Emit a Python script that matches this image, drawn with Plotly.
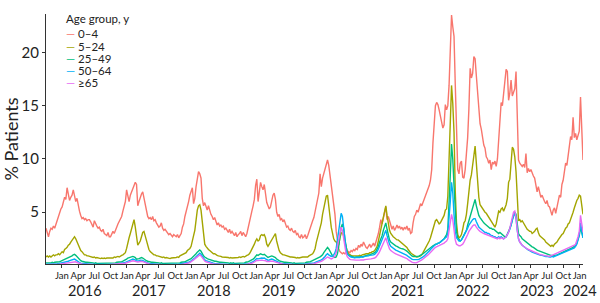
import pandas as pd
import plotly.graph_objects as go

START = "2015-10-03"  # first weekly observation

groups = ["0–4", "5–24", "25–49", "50–64", "≥65"]
colors = ["#F8766D", "#A3A500", "#00BF7D", "#00B0F6", "#E76BF3"]

age_0_4 = [
    # 2015-16
    3.5,3.1,2.7,3.2,3.5,3.4,3.7,3.5,3.9,4.2,4.6,4.9,5.3,5.5,5.9,6.4,6.2,7.3,6.7,6.1,6.4,6.6,7.1,6.5,6.0,6.3,
    5.6,5.1,4.7,4.4,4.5,4.3,4.4,4.2,4.3,4.3,4.1,3.8,3.6,4.2,3.9,3.7,3.5,3.6,3.3,3.2,3.4,3.0,2.9,2.8,3.1,2.7,
    # 2016-17
    2.7,2.9,3.2,3.0,3.4,3.6,3.9,4.1,4.3,4.6,5.1,5.6,6.0,7.1,6.5,6.0,6.6,6.9,7.1,7.5,7.8,7.6,5.6,6.0,6.5,6.7,
    6.9,6.3,5.9,5.0,4.6,4.4,4.5,4.3,4.6,4.2,4.3,4.0,3.8,3.6,3.7,4.0,3.5,3.3,3.4,3.2,3.1,2.9,3.0,2.8,2.7,2.9,
    # 2017-18
    2.8,2.7,2.9,2.6,2.8,3.0,3.6,3.9,4.6,5.0,5.4,6.0,6.6,7.1,7.3,5.8,6.3,7.4,8.1,8.8,8.6,8.2,6.3,5.6,5.9,5.4,
    5.2,5.6,5.1,4.8,4.6,4.3,4.5,4.1,3.8,4.0,3.7,3.8,3.6,3.7,3.4,3.5,3.3,3.1,3.4,3.0,3.2,3.0,2.8,3.1,2.7,2.9,
    # 2018-19
    3.0,3.2,2.8,3.1,2.9,2.7,3.0,3.6,4.2,4.7,5.1,5.6,6.2,7.5,8.1,6.0,7.0,7.8,7.4,7.1,7.6,6.8,5.9,5.6,5.3,5.5,
    6.1,6.6,6.8,6.2,5.0,4.6,4.8,4.3,4.4,4.1,4.3,3.9,3.6,3.7,3.4,3.3,3.5,3.2,3.1,3.3,2.9,3.0,2.7,2.6,2.9,2.6,
    # 2019-20
    2.7,2.9,2.5,2.8,3.2,3.5,3.9,4.2,4.5,5.0,5.5,6.0,6.8,8.6,7.4,8.2,8.7,9.2,9.6,9.9,9.4,8.5,7.6,6.8,6.0,4.8,
    3.2,2.2,1.6,1.3,1.2,1.1,1.2,1.1,1.2,1.1,1.3,1.2,1.4,1.3,1.5,1.4,1.6,1.5,1.9,1.7,2.0,1.8,2.2,1.9,1.7,1.6,
    # 2020-21
    1.8,2.0,1.7,1.9,2.1,1.8,2.2,2.5,3.0,3.6,4.3,3.9,4.6,5.0,5.5,4.3,4.6,4.2,3.6,3.4,3.7,3.3,3.5,3.8,3.5,3.7,
    3.4,3.6,3.3,3.6,3.4,3.7,3.3,3.5,3.0,3.1,4.0,4.6,4.8,5.2,5.0,5.5,5.8,5.6,5.9,6.2,6.5,6.9,7.2,7.5,8.0,9.0,
    # 2021-22
    11.5,13.4,15.0,15.3,15.1,14.6,14.0,13.5,12.9,13.2,15.1,14.6,15.0,16.9,20.5,23.5,22.4,21.5,17.0,11.5,9.0,8.6,9.6,9.8,8.3,8.2,
    9.0,10.5,12.0,14.7,18.5,17.6,18.0,19.6,19.4,17.8,16.2,14.5,13.3,12.8,12.0,11.3,11.0,10.2,10.0,9.6,9.9,9.0,9.7,9.5,9.8,9.3,
    # 2022-23
    10.0,11.8,14.5,15.3,15.0,16.0,17.2,18.4,18.2,15.5,16.2,17.4,15.9,16.3,16.6,18.2,13.0,9.9,9.6,9.4,9.3,9.5,9.2,10.5,8.7,9.1,
    8.8,9.0,8.6,8.4,8.2,7.6,6.9,7.4,6.8,6.4,6.6,6.2,6.0,5.8,6.1,5.6,5.5,5.1,4.7,5.2,5.4,4.9,5.6,6.2,6.6,6.4,
    # 2023-24
    7.6,8.0,8.7,9.6,9.4,10.4,11.0,12.1,11.8,13.9,12.0,12.4,11.8,12.3,12.6,15.8,13.0,9.9,
]

age_5_24 = [
    # 2015-16
    0.8,0.9,0.8,0.9,0.8,0.9,1.0,0.9,1.0,1.0,1.1,1.0,1.2,1.3,1.2,1.5,1.6,1.7,1.9,2.0,2.2,2.4,2.6,2.7,2.5,2.2,
    1.9,1.6,1.4,1.3,1.1,1.0,1.0,0.9,0.9,0.85,0.8,0.8,0.75,0.8,0.7,0.75,0.7,0.7,0.65,0.7,0.65,0.7,0.65,0.7,0.7,0.75,
    # 2016-17
    0.7,0.75,0.7,0.8,0.75,0.8,0.85,0.8,0.9,0.95,1.0,1.1,1.2,1.6,2.2,2.6,3.0,3.4,4.0,4.3,3.6,2.8,1.9,2.1,2.3,2.7,
    3.1,3.2,2.8,2.2,1.8,1.5,1.3,1.2,1.1,1.0,1.0,0.9,0.9,0.85,0.8,0.8,0.75,0.8,0.7,0.75,0.7,0.7,0.65,0.7,0.7,0.75,
    # 2017-18
    0.7,0.75,0.8,0.75,0.9,0.95,1.0,1.1,1.1,1.2,1.4,1.5,1.6,1.8,2.2,2.8,3.3,4.4,5.2,5.6,5.7,5.2,4.2,2.6,2.0,1.8,
    1.6,1.5,1.4,1.3,1.2,1.1,1.1,1.0,0.95,0.9,0.9,0.85,0.8,0.8,0.8,0.75,0.8,0.75,0.7,0.75,0.7,0.7,0.7,0.75,0.7,0.75,
    # 2018-19
    0.8,0.75,0.8,0.85,0.8,0.9,0.95,1.0,1.1,1.3,1.5,1.7,2.0,2.3,2.5,2.3,2.4,2.8,2.9,2.8,2.9,2.6,2.0,1.8,2.0,2.2,
    2.5,2.7,2.9,3.0,2.3,1.7,1.4,1.2,1.1,1.0,1.0,0.95,0.9,0.9,0.85,0.8,0.8,0.8,0.75,0.75,0.7,0.75,0.7,0.75,0.75,0.8,
    # 2019-20
    0.8,0.8,0.85,0.8,0.9,0.95,1.0,1.1,1.3,1.6,2.2,2.7,3.0,3.4,4.0,4.8,5.4,6.0,6.5,6.6,5.8,4.6,3.6,3.0,2.5,2.3,
    2.2,2.0,1.9,2.6,3.0,3.1,2.8,2.2,1.6,1.3,1.1,1.0,0.95,0.9,0.9,0.85,0.9,0.85,0.9,0.95,0.9,1.0,1.0,1.05,1.1,1.1,
    # 2020-21
    1.1,1.2,1.2,1.3,1.3,1.4,1.6,1.8,2.3,2.9,3.5,4.0,4.7,5.3,5.6,4.7,3.9,3.3,3.0,2.8,2.7,2.6,2.5,2.4,2.4,2.3,
    2.2,2.1,2.0,1.9,1.8,1.7,1.5,1.3,1.2,1.1,1.0,0.9,0.85,0.8,0.8,0.85,0.9,1.0,1.2,1.4,1.6,1.8,2.0,2.3,2.6,3.0,
    # 2021-22
    3.4,3.8,4.2,4.3,4.1,3.9,4.0,4.2,4.4,4.7,5.2,5.3,6.5,9.5,13.0,16.9,15.2,12.5,7.0,4.0,2.9,2.6,2.7,2.9,3.4,4.0,
    4.2,4.8,5.8,7.0,8.0,8.5,9.2,10.3,11.2,9.6,7.6,6.4,5.7,5.5,5.3,5.2,5.0,4.9,4.7,4.5,4.4,4.2,4.0,3.8,3.6,3.9,
    # 2022-23
    4.6,5.1,5.0,5.3,5.4,5.1,5.4,5.7,6.3,7.8,8.1,9.6,11.1,10.9,10.2,8.8,5.8,4.2,4.3,4.1,4.2,4.0,3.7,3.5,3.4,3.3,
    3.2,3.2,3.0,3.1,3.2,3.4,3.5,3.1,2.8,2.7,2.6,2.5,2.4,2.2,2.1,2.0,1.9,1.8,1.9,1.8,2.0,2.1,2.2,2.4,2.6,2.7,
    # 2023-24
    2.9,3.0,3.3,3.5,3.6,3.9,4.0,4.3,4.6,5.0,5.4,5.8,6.1,6.3,6.6,6.5,5.6,4.8,
]

age_25_49 = [
    # 2015-16
    0.25,0.25,0.2,0.25,0.25,0.3,0.25,0.3,0.3,0.3,0.35,0.35,0.4,0.45,0.5,0.55,0.6,0.65,0.7,0.8,0.85,0.9,1.0,1.05,0.95,0.8,
    0.65,0.55,0.45,0.4,0.35,0.35,0.3,0.3,0.3,0.25,0.25,0.25,0.25,0.2,0.25,0.2,0.2,0.25,0.2,0.2,0.25,0.2,0.2,0.25,0.2,0.25,
    # 2016-17
    0.2,0.25,0.2,0.25,0.25,0.3,0.3,0.3,0.35,0.35,0.4,0.45,0.5,0.6,0.7,0.75,0.8,0.8,0.85,0.8,0.75,0.6,0.6,0.65,0.7,0.75,
    0.7,0.6,0.5,0.45,0.4,0.35,0.35,0.3,0.3,0.3,0.25,0.25,0.25,0.25,0.2,0.25,0.2,0.2,0.25,0.2,0.2,0.2,0.25,0.2,0.2,0.25,
    # 2017-18
    0.2,0.25,0.2,0.25,0.25,0.3,0.3,0.35,0.35,0.4,0.45,0.5,0.55,0.65,0.75,0.85,0.95,1.1,1.25,1.4,1.45,1.35,1.1,0.9,0.8,0.7,
    0.65,0.6,0.55,0.5,0.45,0.45,0.4,0.4,0.35,0.35,0.3,0.3,0.3,0.3,0.25,0.25,0.25,0.25,0.2,0.25,0.2,0.25,0.2,0.2,0.25,0.2,
    # 2018-19
    0.2,0.25,0.2,0.25,0.25,0.3,0.3,0.35,0.4,0.45,0.5,0.6,0.7,0.85,1.0,0.95,1.0,1.1,1.05,1.0,1.05,0.95,0.8,0.75,0.8,0.85,
    0.9,0.85,0.8,0.75,0.6,0.5,0.45,0.4,0.35,0.35,0.3,0.3,0.3,0.25,0.25,0.25,0.25,0.2,0.25,0.2,0.2,0.25,0.2,0.2,0.25,0.25,
    # 2019-20
    0.25,0.25,0.3,0.3,0.3,0.35,0.4,0.45,0.5,0.55,0.6,0.7,0.75,0.8,0.9,1.0,1.2,1.4,1.6,1.7,1.55,1.3,1.1,0.9,0.8,0.75,
    0.8,1.1,1.8,2.8,3.6,3.9,3.5,2.5,1.6,1.1,0.95,0.9,0.85,0.8,0.8,0.75,0.8,0.8,0.75,0.8,0.85,0.8,0.85,0.9,0.9,0.95,
    # 2020-21
    1.0,1.0,1.05,1.1,1.1,1.2,1.3,1.5,1.8,2.2,2.5,2.8,3.3,3.7,4.0,3.4,2.8,2.4,2.2,2.1,2.0,1.9,1.85,1.8,1.7,1.65,
    1.6,1.6,1.55,1.5,1.45,1.35,1.25,1.1,1.0,0.9,0.85,0.85,0.8,0.8,0.85,0.9,0.95,1.0,1.1,1.2,1.3,1.4,1.5,1.6,1.7,1.8,
    # 2021-22
    1.85,1.9,2.0,2.0,2.1,2.1,2.2,2.3,2.4,2.5,2.7,2.9,3.4,5.5,8.5,11.4,10.0,7.5,4.5,3.2,2.6,2.4,2.3,2.4,2.6,2.8,
    3.0,3.3,3.8,4.2,4.7,5.2,5.6,6.0,6.2,5.6,5.1,4.7,4.5,4.3,4.1,4.0,3.9,3.8,3.7,3.6,3.5,3.5,3.4,3.4,3.3,3.2,
    # 2022-23
    3.1,3.0,3.1,3.0,2.9,2.8,2.7,2.7,2.9,3.2,3.5,3.8,4.3,4.7,5.0,4.8,3.8,3.0,2.8,2.7,2.5,2.4,2.3,2.2,2.1,2.0,
    1.9,1.8,1.75,1.7,1.6,1.5,1.45,1.4,1.35,1.3,1.25,1.2,1.15,1.1,1.05,1.0,1.0,0.95,0.95,0.9,0.95,0.95,1.0,1.05,1.1,1.15,
    # 2023-24
    1.2,1.25,1.3,1.35,1.4,1.45,1.5,1.55,1.6,1.7,1.8,1.9,2.1,2.4,2.8,3.6,3.0,2.6,
]

age_50_64 = [
    # 2015-16
    0.12,0.12,0.1,0.12,0.12,0.14,0.13,0.15,0.15,0.16,0.18,0.2,0.22,0.25,0.28,0.3,0.33,0.36,0.4,0.45,0.5,0.52,0.58,0.6,0.52,0.42,
    0.34,0.28,0.22,0.2,0.18,0.16,0.15,0.14,0.13,0.12,0.12,0.11,0.12,0.1,0.11,0.1,0.1,0.11,0.1,0.1,0.11,0.1,0.1,0.11,0.1,0.11,
    # 2016-17
    0.1,0.11,0.1,0.12,0.12,0.14,0.15,0.16,0.18,0.2,0.22,0.25,0.28,0.35,0.42,0.48,0.52,0.55,0.6,0.58,0.52,0.42,0.42,0.45,0.5,0.52,
    0.48,0.4,0.32,0.27,0.23,0.2,0.18,0.16,0.15,0.14,0.13,0.12,0.12,0.11,0.1,0.11,0.1,0.1,0.11,0.1,0.1,0.1,0.11,0.1,0.1,0.11,
    # 2017-18
    0.1,0.11,0.1,0.12,0.12,0.14,0.15,0.17,0.19,0.22,0.25,0.3,0.35,0.42,0.5,0.6,0.7,0.82,0.95,1.1,1.15,1.05,0.85,0.65,0.52,0.45,
    0.4,0.35,0.3,0.27,0.24,0.22,0.2,0.18,0.17,0.16,0.15,0.14,0.13,0.12,0.12,0.11,0.11,0.1,0.1,0.11,0.1,0.1,0.11,0.1,0.1,0.11,
    # 2018-19
    0.1,0.11,0.1,0.12,0.12,0.14,0.15,0.17,0.2,0.24,0.3,0.36,0.45,0.55,0.65,0.62,0.65,0.72,0.7,0.68,0.7,0.62,0.52,0.5,0.52,0.56,
    0.6,0.56,0.5,0.45,0.36,0.3,0.26,0.22,0.2,0.18,0.16,0.15,0.14,0.13,0.12,0.12,0.11,0.1,0.11,0.1,0.1,0.11,0.1,0.1,0.11,0.12,
    # 2019-20
    0.12,0.13,0.14,0.15,0.16,0.18,0.2,0.22,0.25,0.28,0.32,0.36,0.4,0.45,0.52,0.6,0.7,0.85,1.0,1.1,1.0,0.9,0.85,0.9,1.0,1.2,
    1.6,2.4,3.4,4.3,4.9,4.6,3.6,2.4,1.5,1.1,0.95,0.85,0.8,0.75,0.75,0.72,0.75,0.75,0.72,0.75,0.8,0.78,0.8,0.85,0.85,0.9,
    # 2020-21
    0.9,0.95,0.95,1.0,1.0,1.05,1.15,1.3,1.55,1.85,2.1,2.4,2.8,3.1,3.3,2.8,2.3,2.0,1.8,1.7,1.6,1.5,1.45,1.4,1.35,1.3,
    1.25,1.2,1.15,1.1,1.05,0.95,0.85,0.75,0.65,0.6,0.55,0.55,0.5,0.52,0.55,0.6,0.65,0.7,0.8,0.9,1.0,1.1,1.2,1.35,1.5,1.65,
    # 2021-22
    1.75,1.85,1.95,2.0,2.05,2.1,2.2,2.3,2.4,2.5,2.6,2.7,3.0,4.2,6.0,7.8,6.8,4.8,3.2,2.6,2.4,2.3,2.3,2.4,2.6,2.8,
    3.0,3.2,3.5,3.8,4.0,4.2,4.3,4.4,4.4,4.1,3.8,3.6,3.5,3.4,3.3,3.2,3.1,3.1,3.0,3.0,2.9,2.8,2.8,2.7,2.7,2.6,
    # 2022-23
    2.6,2.7,2.6,2.7,2.6,2.5,2.6,2.7,2.9,3.1,3.4,3.8,4.3,4.7,4.9,4.4,3.3,2.5,2.2,2.0,1.9,1.8,1.7,1.6,1.5,1.45,
    1.4,1.3,1.25,1.2,1.15,1.1,1.05,1.0,1.0,0.95,0.95,0.9,0.9,0.85,0.85,0.8,0.8,0.8,0.85,0.8,0.85,0.9,0.9,0.95,1.0,1.05,
    # 2023-24
    1.1,1.15,1.2,1.25,1.3,1.35,1.4,1.45,1.5,1.55,1.65,1.8,2.0,2.4,2.9,4.0,3.3,2.6,
]

age_65_plus = [
    # 2015-16
    0.08,0.08,0.07,0.08,0.08,0.09,0.09,0.1,0.1,0.11,0.12,0.13,0.15,0.17,0.19,0.21,0.23,0.25,0.28,0.3,0.33,0.35,0.38,0.4,0.35,0.28,
    0.23,0.19,0.15,0.13,0.12,0.11,0.1,0.09,0.09,0.08,0.08,0.07,0.08,0.07,0.07,0.07,0.07,0.08,0.07,0.07,0.07,0.07,0.07,0.08,0.07,0.08,
    # 2016-17
    0.07,0.08,0.07,0.08,0.08,0.09,0.1,0.11,0.12,0.14,0.16,0.18,0.21,0.26,0.31,0.35,0.38,0.4,0.44,0.42,0.38,0.32,0.32,0.35,0.38,0.4,
    0.36,0.3,0.24,0.2,0.17,0.14,0.12,0.11,0.1,0.09,0.09,0.08,0.08,0.08,0.07,0.08,0.07,0.07,0.08,0.07,0.07,0.07,0.08,0.07,0.07,0.08,
    # 2017-18
    0.07,0.08,0.07,0.08,0.08,0.1,0.11,0.12,0.14,0.16,0.19,0.23,0.28,0.34,0.42,0.52,0.62,0.74,0.86,0.98,1.0,0.9,0.72,0.54,0.42,0.35,
    0.3,0.26,0.22,0.19,0.17,0.15,0.14,0.13,0.12,0.11,0.1,0.1,0.09,0.09,0.08,0.08,0.08,0.07,0.07,0.08,0.07,0.07,0.08,0.07,0.07,0.08,
    # 2018-19
    0.07,0.08,0.07,0.08,0.08,0.1,0.11,0.12,0.14,0.17,0.21,0.26,0.32,0.4,0.48,0.46,0.48,0.52,0.5,0.48,0.5,0.45,0.38,0.36,0.38,0.4,
    0.42,0.4,0.36,0.32,0.26,0.22,0.18,0.16,0.14,0.12,0.11,0.1,0.09,0.09,0.08,0.08,0.08,0.07,0.08,0.07,0.07,0.08,0.07,0.07,0.08,0.08,
    # 2019-20
    0.08,0.09,0.09,0.1,0.11,0.12,0.13,0.15,0.17,0.2,0.23,0.26,0.3,0.34,0.4,0.46,0.54,0.64,0.74,0.8,0.74,0.66,0.62,0.66,0.74,0.9,
    1.2,1.8,2.6,3.3,3.6,3.3,2.5,1.7,1.1,0.8,0.65,0.58,0.55,0.52,0.5,0.48,0.5,0.5,0.48,0.5,0.52,0.5,0.52,0.55,0.55,0.58,
    # 2020-21
    0.6,0.62,0.62,0.65,0.66,0.7,0.78,0.9,1.1,1.3,1.55,1.8,2.1,2.4,2.6,2.2,1.8,1.55,1.4,1.3,1.2,1.15,1.1,1.05,1.0,0.95,
    0.9,0.88,0.85,0.8,0.75,0.65,0.55,0.45,0.38,0.32,0.28,0.25,0.25,0.28,0.32,0.38,0.45,0.52,0.6,0.7,0.8,0.9,1.0,1.1,1.25,1.4,
    # 2021-22
    1.5,1.6,1.7,1.75,1.8,1.85,1.9,2.0,2.05,2.1,2.2,2.3,2.5,3.2,4.1,4.8,4.3,3.2,2.4,2.0,1.9,1.85,1.85,1.9,2.0,2.2,
    2.4,2.6,2.9,3.2,3.4,3.6,3.7,3.8,3.8,3.6,3.4,3.3,3.2,3.1,3.05,3.0,2.95,2.9,2.85,2.8,2.75,2.7,2.65,2.6,2.6,2.55,
    # 2022-23
    2.5,2.6,2.5,2.6,2.55,2.5,2.6,2.7,2.9,3.1,3.5,4.0,4.6,5.0,5.1,4.5,3.3,2.5,2.2,2.0,1.9,1.8,1.7,1.6,1.55,1.5,
    1.45,1.35,1.3,1.25,1.2,1.15,1.1,1.05,1.05,1.0,1.0,0.95,0.95,0.9,0.9,0.85,0.85,0.9,0.95,1.0,1.05,1.1,1.15,1.2,1.25,1.3,
    # 2023-24
    1.35,1.4,1.45,1.5,1.55,1.6,1.65,1.7,1.75,1.8,1.9,2.0,2.3,2.7,3.2,4.7,3.9,3.1,
]

series = [age_0_4, age_5_24, age_25_49, age_50_64, age_65_plus]

tick_dates = pd.date_range("2016-01-01", "2024-01-01", freq="QS")
tick_text = [d.strftime("%b") for d in tick_dates]
year_labels = [str(y) for y in range(2016, 2025)]
year_positions = [f"{y}-05-08" for y in range(2016, 2024)] + ["2024-01-01"]

FONT = "Lato, 'Open Sans', sans-serif"
AXIS_COLOR = "#333333"
TEXT_COLOR = "#222222"

fig = go.Figure()
n_max = max(len(s) for s in series)
all_dates = pd.date_range(START, periods=n_max, freq="7D")
for name, col, vals in zip(groups, colors, series):
    fig.add_trace(go.Scatter(
        x=all_dates[:len(vals)], y=vals, mode="lines", name=name,
        line=dict(color=col, width=1.4), showlegend=False,
    ))

# legend drawn as annotation text (title + coloured dash + label)
ann = [dict(text="Age group, y", x=0.036, y=0.984, xref="paper", yref="paper",
            xanchor="left", yanchor="middle", showarrow=False, borderpad=0,
            font=dict(size=11.5, color=TEXT_COLOR, family=FONT))]
leg_y = [0.92, 0.872, 0.824, 0.776, 0.728]
for name, col, yy in zip(groups, colors, leg_y):
    ann.append(dict(text=f"<span style='color:{col}'>—</span> {name}", x=0.036, y=yy,
                    xref="paper", yref="paper", xanchor="left", yanchor="middle",
                    showarrow=False, borderpad=0,
                    font=dict(size=11.5, color=TEXT_COLOR, family=FONT)))
for lbl, pos in zip(year_labels, year_positions):
    ann.append(dict(text=lbl, x=pos, y=-0.104, xref="x", yref="paper",
                    xanchor="center", yanchor="middle", showarrow=False,
                    font=dict(size=14.5, color=TEXT_COLOR, family=FONT)))

fig.update_layout(
    width=600, height=303,
    margin=dict(l=46, r=17, t=14, b=39, autoexpand=False),
    paper_bgcolor="white", plot_bgcolor="white",
    font=dict(family=FONT, color=TEXT_COLOR),
    annotations=ann,
    xaxis=dict(
        range=[all_dates[0], all_dates[n_max - 1]],
        tickvals=tick_dates, ticktext=tick_text, tickangle=0,
        tickfont=dict(size=9.5, color=TEXT_COLOR, family=FONT),
        showgrid=False, zeroline=False, automargin=False,
        showline=True, linecolor=AXIS_COLOR, linewidth=1,
        ticks="outside", ticklen=3, tickcolor=AXIS_COLOR,
    ),
    yaxis=dict(
        range=[0.14, 23.6],
        tickvals=[5, 10, 15, 20],
        tickfont=dict(size=15, color=TEXT_COLOR, family=FONT),
        title=dict(text="% Patients", font=dict(size=18, color=TEXT_COLOR, family=FONT), standoff=6),
        showgrid=False, zeroline=False, automargin=False,
        showline=True, linecolor=AXIS_COLOR, linewidth=1,
        ticks="outside", ticklen=3, tickcolor=AXIS_COLOR,
    ),
)

# remove the browser's default 8px page margin so the 600x303 figure fills the window
fig.write_html("out.html", config={"displayModeBar": False},
               post_script="document.body.style.margin='0px';")
